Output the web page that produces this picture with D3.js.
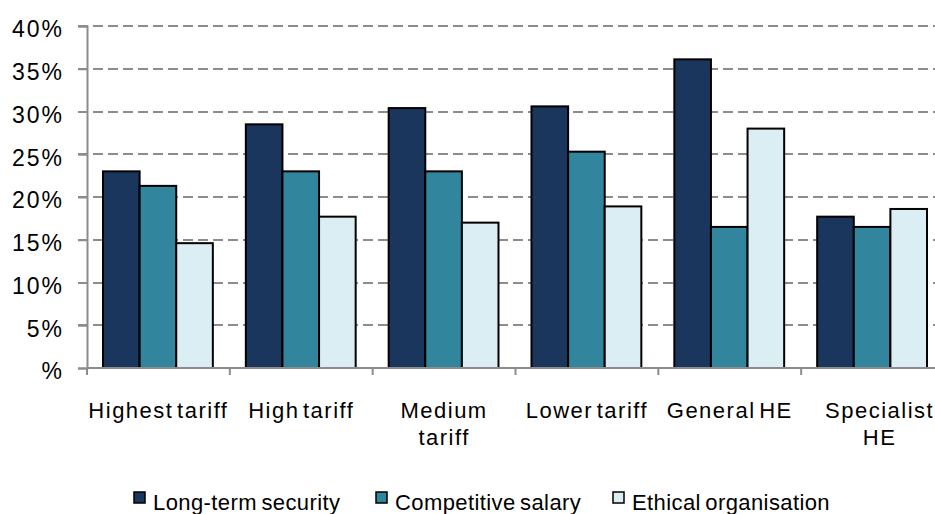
<!DOCTYPE html>
<html>
<head>
<meta charset="utf-8">
<script src="https://cdn.jsdelivr.net/npm/d3@7"></script>
<style>
  body { margin: 0; background: #fff; }
  text { font-family: 'Liberation Sans', Arial, sans-serif; fill: #000; }
</style>
</head>
<body>
<div class="chart-panel"></div>
<script>
const categories = ['Highest tariff', 'High tariff', 'Medium tariff', 'Lower tariff', 'General HE', 'Specialist HE']
// how each category label breaks onto lines
const categoryLines = [['Highest tariff'], ['High tariff'], ['Medium', 'tariff'], ['Lower tariff'], ['General HE'], ['Specialist', 'HE']]
const seriesNames = ['Long-term security', 'Competitive salary', 'Ethical organisation']
const longTermSecurity = [23.0, 28.5, 30.4, 30.6, 36.1, 17.7]
const competitiveSalary = [21.3, 23.0, 23.0, 25.3, 16.5, 16.5]
const ethicalOrganisation = [14.6, 17.7, 17.0, 18.9, 28.0, 18.6]
const yTicks = [0, 5, 10, 15, 20, 25, 30, 35, 40]
const colors = ['#1a365d', '#31859c', '#dbeef3']

const seriesValues = [longTermSecurity, competitiveSalary, ethicalOrganisation]

const width = 935
const height = 514
const margin = { top: 26, right: -9, bottom: 146, left: 87 }
const gridColor = '#8c8c8c'

const svg = d3.select('.chart-panel').append('svg')
  .attr('width', width)
  .attr('height', height)

const x = d3.scaleBand()
  .range([margin.left, width - margin.right])
  .domain(categories)
  .paddingInner(0)
  .paddingOuter(0)

const xInner = d3.scaleBand()
  .domain(seriesNames)
  .range([16, x.bandwidth() - 17])

const y = d3.scaleLinear()
  .range([height - margin.bottom, margin.top])
  .domain([0, 40])

// gridlines
svg.append('g')
  .selectAll('line')
  .data(yTicks.filter(function (d) { return d > 0 }))
  .enter().append('line')
    .attr('x1', margin.left - 9)
    .attr('x2', width)
    .attr('y1', function (d) { return Math.round(y(d)) })
    .attr('y2', function (d) { return Math.round(y(d)) })
    .attr('stroke', gridColor)
    .attr('stroke-width', 2)
    .attr('stroke-dasharray', '10,5')

// y axis
const yAxis = svg.append('g')
  .attr('transform', 'translate(' + margin.left + ',0)')
  .call(d3.axisLeft(y).tickValues(yTicks).tickSize(9).tickPadding(14)
    .tickFormat(function (d) { return d === 0 ? '%' : d + '%' }))
yAxis.select('.domain').attr('stroke', gridColor).attr('stroke-width', 2)
yAxis.selectAll('.tick line').attr('stroke', gridColor).attr('stroke-width', 2)
yAxis.selectAll('.tick text')
  .style('font-size', '23px')
  .style('letter-spacing', '2px')
  .attr('dy', '0.47em')
  .attr('fill', '#000')

// bars
const group = svg.append('g').selectAll('.group')
  .data(categories)
  .enter().append('g')
    .attr('class', 'group')
    .attr('transform', function (d) { return 'translate(' + x(d) + ',0)' })

group.selectAll('rect')
  .data(function (d, i) {
    return seriesNames.map(function (s, j) { return { series: s, value: seriesValues[j][i], idx: j } })
  })
  .enter().append('rect')
    .attr('x', function (d) { return xInner(d.series) })
    .attr('width', xInner.bandwidth())
    .attr('y', function (d) { return y(d.value) })
    .attr('height', function (d) { return y(0) - y(d.value) })
    .attr('fill', function (d) { return colors[d.idx] })
    .attr('stroke', '#000')
    .attr('stroke-width', 2)

// x axis
const xAxisG = svg.append('g')
  .attr('transform', 'translate(0,' + y(0) + ')')
xAxisG.append('line')
  .attr('x1', margin.left)
  .attr('x2', width)
  .attr('stroke', gridColor)
  .attr('stroke-width', 2)
xAxisG.selectAll('.xtick')
  .data(categories)
  .enter().append('line')
    .attr('x1', function (d) { return x(d) })
    .attr('x2', function (d) { return x(d) })
    .attr('y1', 0)
    .attr('y2', 7)
    .attr('stroke', gridColor)
    .attr('stroke-width', 2)

xAxisG.selectAll('.xlabel')
  .data(categories)
  .enter().append('text')
    .attr('class', 'xlabel')
    .attr('text-anchor', 'middle')
    .attr('y', 50)
    .style('font-size', '22px')
    .style('letter-spacing', '1.5px')
    .style('word-spacing', '-4px')
    .each(function (d, i) {
      const t = d3.select(this)
      // the last label sits a little right of its band centre, as in the source
      const cx = x(d) + x.bandwidth() / 2 + (i === categories.length - 1 ? 7 : 0)
      categoryLines[i].forEach(function (line, k) {
        t.append('tspan')
          .attr('x', cx)
          .attr('dy', k === 0 ? 0 : 27)
          .text(line)
      })
    })

// legend
const legendX = [134, 376, 613]
const legend = svg.append('g').selectAll('.legend')
  .data(seriesNames)
  .enter().append('g')
    .attr('class', 'legend')
    .attr('transform', function (d, i) { return 'translate(' + legendX[i] + ',492)' })
legend.append('rect')
  .attr('width', 11)
  .attr('height', 11)
  .attr('fill', function (d, i) { return colors[i] })
  .attr('stroke', '#000')
  .attr('stroke-width', 1.5)
legend.append('text')
  .attr('x', 19)
  .attr('y', 18)
  .style('font-size', '22px')
  .style('letter-spacing', '0.4px')
  .style('word-spacing', '-2px')
  .text(function (d) { return d })
</script>
</body>
</html>
